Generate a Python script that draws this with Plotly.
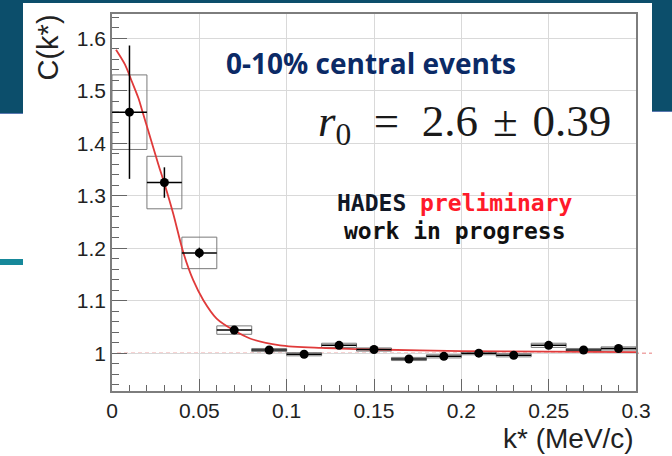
import plotly.graph_objects as go

# Correlation function C(k*) per k* bin (bin width 0.02 MeV/c)
k_centers = [0.01, 0.03, 0.05, 0.07, 0.09, 0.11, 0.13, 0.15, 0.17, 0.19, 0.21, 0.23, 0.25, 0.27, 0.29]
c_values = [1.459, 1.325, 1.191, 1.044, 1.006, 0.998, 1.015, 1.007, 0.989, 0.994, 1.000, 0.996, 1.015, 1.006, 1.009]
stat_err = [0.127, 0.029, 0.010, 0.005, 0.004, 0.003, 0.003, 0.003, 0.003, 0.003, 0.003, 0.003, 0.003, 0.003, 0.003]
syst_err = [0.071, 0.050, 0.030, 0.008, 0.003, 0.003, 0.004, 0.003, 0.003, 0.003, 0.003, 0.003, 0.004, 0.003, 0.003]
bin_half = [0.01] * len(k_centers)

# Fitted source function
fit_k = [0.0023, 0.0074, 0.0113, 0.0151, 0.0179, 0.0208, 0.0237, 0.0265, 0.030, 0.0351, 0.0408,
         0.0465, 0.0523, 0.0599, 0.0695, 0.079, 0.0962, 0.12, 0.15, 0.2, 0.25, 0.3]
fit_c = [1.578, 1.550, 1.518, 1.486, 1.455, 1.423, 1.391, 1.360, 1.323, 1.265, 1.192,
         1.139, 1.101, 1.066, 1.044, 1.028, 1.015, 1.010, 1.007, 1.004, 1.003, 1.002]

x_ticks = [0, 0.05, 0.1, 0.15, 0.2, 0.25, 0.3]
y_ticks = [1.0, 1.1, 1.2, 1.3, 1.4, 1.5, 1.6]
x_range = [0, 0.3]
y_range = [0.928, 1.646]

# systematic boxes as closed outlines
box_x, box_y = [], []
for k, c, h, s in zip(k_centers, c_values, bin_half, syst_err):
    box_x += [k - h, k + h, k + h, k - h, k - h, None]
    box_y += [c - s, c - s, c + s, c + s, c - s, None]

fig = go.Figure()
fig.add_trace(go.Scatter(x=box_x, y=box_y, mode="lines",
                         line=dict(color="#7a7a7a", width=1), hoverinfo="skip"))
fig.add_trace(go.Scatter(x=fit_k, y=fit_c, mode="lines", line_shape="spline",
                         line=dict(color="#e03a3a", width=1.8, smoothing=0.8)))
fig.add_trace(go.Scatter(
    x=k_centers, y=c_values, mode="markers",
    marker=dict(color="black", size=9),
    error_y=dict(type="data", array=stat_err, color="black", thickness=1.5, width=0),
    error_x=dict(type="data", array=bin_half, color="black", thickness=1.5, width=0),
))

P_W, P_H = 524.0, 377.0  # plot area in px


def px(xp):
    return (xp - 112) / P_W


def py(yp):
    return (391 - yp) / P_H


shapes = [
    # unity reference line
    dict(type="line", xref="paper", yref="y", x0=px(117), x1=px(652), y0=1, y1=1,
         line=dict(color="rgba(228,110,110,0.6)", width=1.5, dash="4px,3px"), layer="below"),
    # slide decoration
    dict(type="rect", xref="paper", yref="paper", x0=px(0), x1=px(672), y0=py(3), y1=py(0),
         fillcolor="#0c4e6b", line_width=0),
    dict(type="rect", xref="paper", yref="paper", x0=px(0), x1=px(23), y0=py(113), y1=py(0),
         fillcolor="#0c4e6b", line_width=0),
    dict(type="rect", xref="paper", yref="paper", x0=px(652), x1=px(672), y0=py(111), y1=py(0),
         fillcolor="#0c4e6b", line_width=0),
    dict(type="rect", xref="paper", yref="paper", x0=px(0), x1=px(23), y0=py(114), y1=py(113),
         fillcolor="#5a78b0", line_width=0),
    dict(type="rect", xref="paper", yref="paper", x0=px(652), x1=px(672), y0=py(112), y1=py(111),
         fillcolor="#5a78b0", line_width=0),
    dict(type="rect", xref="paper", yref="paper", x0=px(0), x1=px(23), y0=py(265), y1=py(259),
         fillcolor="#16889a", line_width=0),
]

sans = "Liberation Sans, Arial, sans-serif"
annotations = [
    dict(text="C(k*)", xref="paper", yref="paper", x=px(47), y=py(47.5), textangle=-90,
         showarrow=False, xanchor="center", yanchor="middle",
         font=dict(family=sans, size=29, color="#222")),
    dict(text="k* (MeV/c)", xref="paper", yref="paper", x=1.0, y=py(438),
         showarrow=False, xanchor="right", yanchor="middle",
         font=dict(family=sans, size=28, color="#222")),
    dict(text="<b>0-10% central events</b>", xref="paper", yref="paper", x=px(371), y=py(63),
         showarrow=False, xanchor="center", yanchor="middle",
         font=dict(family="Open Sans, sans-serif", size=28, color="#0b2a66")),
    dict(text="<i>r</i><sub>0</sub>\u2002=\u20022.6\u2004±\u20040.39", xref="paper", yref="paper",
         x=px(613), y=py(124), showarrow=False, xanchor="right", yanchor="middle",
         font=dict(family="Liberation Serif, DejaVu Serif, serif", size=45, color="#1a1a1a")),
    dict(text="<b>HADES <span style='color:#ff1a2a'>preliminary</span></b>", xref="paper", yref="paper",
         x=px(455), y=py(203), showarrow=False, xanchor="center", yanchor="middle",
         font=dict(family="DejaVu Sans Mono, monospace", size=23, color="#111827")),
    dict(text="<b>work in progress</b>", xref="paper", yref="paper",
         x=px(455), y=py(231), showarrow=False, xanchor="center", yanchor="middle",
         font=dict(family="DejaVu Sans Mono, monospace", size=23, color="#111111")),
]

fig.update_layout(
    width=672, height=456, autosize=False,
    margin=dict(l=112, r=36, t=14, b=65),
    paper_bgcolor="white", plot_bgcolor="white",
    showlegend=False,
    shapes=shapes, annotations=annotations,
    xaxis=dict(range=x_range, tickvals=x_ticks, ticktext=[f"{v:g}" for v in x_ticks],
               showgrid=True, gridcolor="#d9d9d9", gridwidth=1, zeroline=False,
               showline=True, linecolor="#7d7d7d", linewidth=1.5, mirror=True,
               ticks="inside", ticklen=12, tickcolor="#666", tickwidth=1,
               minor=dict(dtick=0.01, tick0=0, ticks="inside", ticklen=6, tickcolor="#666", showgrid=False),
               tickfont=dict(family=sans, size=21, color="#222")),
    yaxis=dict(range=y_range, tickvals=y_ticks, ticktext=[f"{v:g}" for v in y_ticks],
               showgrid=True, gridcolor="#d9d9d9", gridwidth=1, zeroline=False,
               showline=True, linecolor="#7d7d7d", linewidth=1.5, mirror=True,
               ticks="inside", ticklen=15, tickcolor="#666", tickwidth=1,
               minor=dict(dtick=0.02, tick0=0.9, ticks="inside", ticklen=7, tickcolor="#666", showgrid=False),
               tickfont=dict(family=sans, size=21, color="#222")),
)

fig.write_html("out.html")
